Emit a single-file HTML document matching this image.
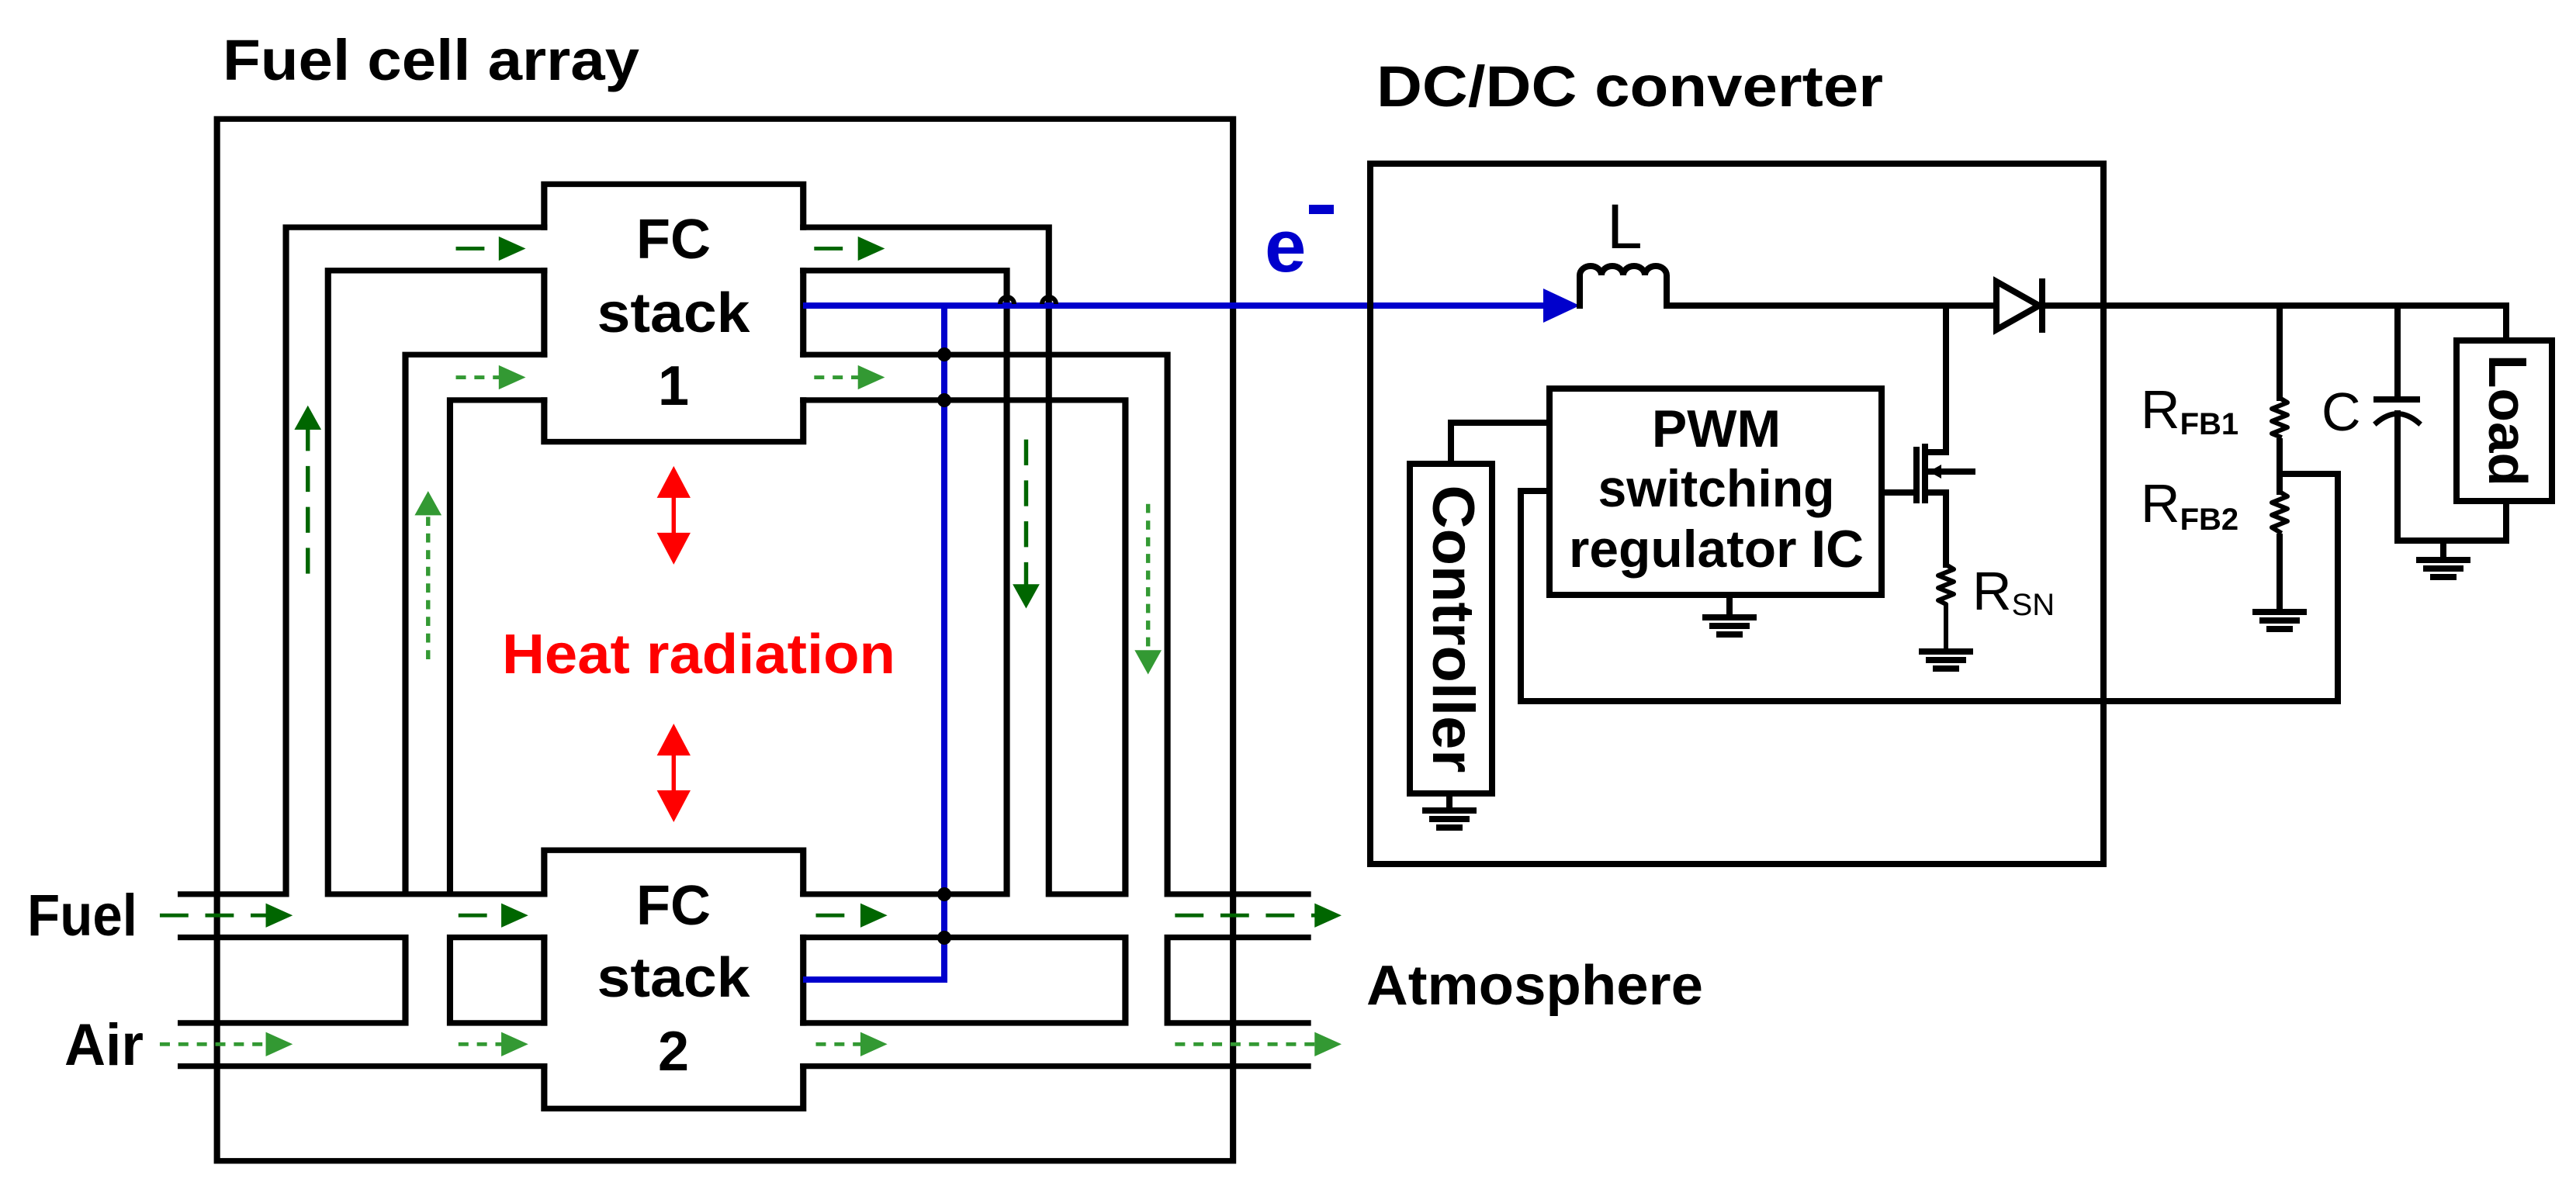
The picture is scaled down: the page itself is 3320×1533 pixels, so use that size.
<!DOCTYPE html>
<html><head><meta charset="utf-8"><style>
html,body{margin:0;padding:0;background:#fff;}
svg{display:block;}
text{font-family:"Liberation Sans",Arial,sans-serif;}
</style></head><body>
<svg width="3320" height="1533" viewBox="0 0 3320 1533" xmlns="http://www.w3.org/2000/svg">
<rect width="3320" height="1533" fill="#fff"/>
<g transform="scale(1.084,0.977)" fill="none" stroke="#000" stroke-width="7.5" stroke-linejoin="miter" stroke-linecap="square">
<rect x="258" y="157" width="1208" height="1375"/>
<path d="M647,300 V243 H955 V300 M647,357 V468 M647,528 V583 H955 V528 M955,357 V468"/>
<path d="M215,1180 H340 V300 H647 M647,1180 H390 V357 H647 M482,1180 V468 H647 M535,1180 V528 H647"/>
<path d="M215,1237 H482 V1350 H215 M647,1237 H535 V1350 H647 M215,1407 H647"/>
<path d="M647,1180 V1122 H955 V1180 M647,1237 V1350 M955,1237 V1350 M647,1407 V1463 H955 V1407"/>
<path d="M955,357 H1197 V1180 H955 M955,300 H1247 V1180 H1338 M1338,1180 V528 H955 M1388,1180 V468 H955 M1388,1180 H1555"/>
<path d="M955,1237 H1338 V1350 H955 M1555,1237 H1388 V1350 H1555 M955,1407 H1555"/>
</g>
<g transform="scale(1.084,0.977)" stroke-width="5">
<g stroke="#006600" fill="#006600" stroke-dasharray="34,20">
<path d="M542,328 H595 M968,328 H1022 M190,1208 H318 M545,1208 H598 M970,1208 H1025 M1397,1208 H1565"/>
<path d="M366,757 V565 M1220,580 V773"/>
</g>
<g fill="#006600">
<polygon points="593,312 625,328 593,344"/><polygon points="1020,312 1052,328 1020,344"/>
<polygon points="316,1192 348,1208 316,1224"/><polygon points="596,1192 628,1208 596,1224"/>
<polygon points="1023,1192 1055,1208 1023,1224"/><polygon points="1563,1192 1595,1208 1563,1224"/>
<polygon points="350,567 366,535 382,567"/><polygon points="1204,771 1220,803 1236,771"/>
</g>
<g stroke="#339933" fill="#339933" stroke-dasharray="12,10">
<path d="M542,498 H595 M968,498 H1022 M190,1378 H318 M545,1378 H598 M970,1378 H1025 M1397,1378 H1565"/>
<path d="M509,870 V678 M1365,665 V860"/>
</g>
<g fill="#339933">
<polygon points="593,482 625,498 593,514"/><polygon points="1020,482 1052,498 1020,514"/>
<polygon points="316,1362 348,1378 316,1394"/><polygon points="596,1362 628,1378 596,1394"/>
<polygon points="1023,1362 1055,1378 1023,1394"/><polygon points="1563,1362 1595,1378 1563,1394"/>
<polygon points="493,680 509,648 525,680"/><polygon points="1349,858 1365,890 1381,858"/>
</g>
<g stroke="#ff0000" fill="#ff0000">
<path d="M801,650 V710 M801,990 V1050" stroke-width="5"/>
<polygon points="781,657 801,615 821,657" stroke="none"/><polygon points="781,703 801,745 821,703" stroke="none"/>
<polygon points="781,997 801,955 821,997" stroke="none"/><polygon points="781,1043 801,1085 821,1043" stroke="none"/>
</g>
</g>
<g stroke="#0000cc" stroke-width="8" fill="none">
<path d="M1035,394 H1995 M1217,394 V1263 H1035"/>
</g>
<polygon points="1989,372 2036,394 1989,416" fill="#0000cc"/>
<g fill="#000">
<circle cx="1217" cy="457" r="9"/><circle cx="1217" cy="516" r="9"/>
<circle cx="1217" cy="1153" r="9"/><circle cx="1217" cy="1209" r="9"/>
</g>
<path d="M1289,392 a9,9 0 0 1 18,0 M1343,392 a9,9 0 0 1 18,0" stroke="#000" stroke-width="6" fill="none"/>
<g fill="none" stroke="#000" stroke-width="8" stroke-linecap="square">
<rect x="1766" y="211" width="945" height="903"/>
<path d="M2036,394 V355 a14,12 0 0 1 28,0 a14,12 0 0 1 28,0 a14,12 0 0 1 28,0 a14,12 0 0 1 28,0 V394 H2573"/>
<path d="M2632,394 H3230 V439"/>
<polygon points="2573,363 2573,425 2628,394" stroke-linejoin="miter"/>
<path d="M2632,363 V425"/>
<path d="M2508,394 V583 H2481 M2481,576 V645 M2470,580 V645 M2425,635 H2470 M2481,635 H2508 V728"/>
<path d="M2508,728 l10,6 l-20,8 l20,8 l-20,8 l20,8 l-20,8 l10,5 V840" stroke-width="6" stroke-linejoin="round"/>
<path d="M2481,608 H2542"/>
<rect x="1997" y="501" width="428" height="266"/>
<rect x="1817" y="598" width="106" height="425"/>
<path d="M1997,545 H1870 V598"/>
<path d="M1997,633 H1960 V904 H3013 V611 H2938"/>
<path d="M2938,394 V513 M2938,569 V634 M2938,692 V789"/>
<path d="M2938,513 l10,6 l-20,8 l20,8 l-20,8 l20,8 l-20,8 l10,4" stroke-width="6" stroke-linejoin="round"/>
<path d="M2938,634 l10,6 l-20,8 l20,8 l-20,8 l20,8 l-20,8 l10,6" stroke-width="6" stroke-linejoin="round"/>
<path d="M3090,394 V515 M3063,515 H3115"/>
<path d="M3063,545 Q3090,522 3117,545" stroke-width="7"/>
<path d="M3090,533 V697 H3230 V646"/>
<rect x="3166" y="439" width="123" height="207"/>
<path d="M3149,697 V722 M2229,767 V796 M1868,1023 V1045"/>
<path d="M2198,796 H2260 M2207,807 H2251 M2216,818 H2242"/>
<path d="M2477,840 H2539 M2486,851 H2530 M2495,862 H2521"/>
<path d="M2907,789 H2969 M2916,800 H2960 M2925,811 H2951"/>
<path d="M3118,722 H3180 M3127,733 H3171 M3136,744 H3162"/>
<path d="M1837,1045 H1899 M1846,1056 H1890 M1855,1067 H1881"/>
</g>
<polygon points="2486,608 2502,599 2502,617" fill="#000"/>
<g font-weight="bold" fill="#000">
<text x="287" y="103" font-size="74" textLength="537" lengthAdjust="spacingAndGlyphs">Fuel cell array</text>
<text x="1774" y="137" font-size="74" textLength="653" lengthAdjust="spacingAndGlyphs">DC/DC converter</text>
<text x="1761" y="1295" font-size="72" textLength="434" lengthAdjust="spacingAndGlyphs">Atmosphere</text>
<text x="35" y="1206" font-size="76" textLength="142" lengthAdjust="spacingAndGlyphs">Fuel</text>
<text x="83" y="1373" font-size="76" textLength="102" lengthAdjust="spacingAndGlyphs">Air</text>
<g text-anchor="middle" font-size="72">
<text x="868" y="333">FC</text>
<text x="868" y="428" textLength="197" lengthAdjust="spacingAndGlyphs">stack</text>
<text x="868" y="522">1</text>
<text x="868" y="1192">FC</text>
<text x="868" y="1285" textLength="197" lengthAdjust="spacingAndGlyphs">stack</text>
<text x="868" y="1380">2</text>
</g>
<text x="647" y="868" font-size="72" fill="#ff0000" textLength="507" lengthAdjust="spacingAndGlyphs">Heat radiation</text>
<g text-anchor="middle" font-size="68">
<text x="2212" y="576">PWM</text>
<text x="2212" y="653" textLength="305" lengthAdjust="spacingAndGlyphs">switching</text>
<text x="2212" y="731" textLength="380" lengthAdjust="spacingAndGlyphs">regulator IC</text>
</g>
<text transform="translate(1847,811) rotate(90)" text-anchor="middle" font-size="76" textLength="371" lengthAdjust="spacingAndGlyphs">Controller</text>
<text transform="translate(3208,542) rotate(90)" text-anchor="middle" font-size="70" textLength="170" lengthAdjust="spacingAndGlyphs">Load</text>
</g>
<text x="1630" y="350" font-size="96" font-weight="bold" fill="#0000cc">e</text>
<rect x="1687" y="264" width="32" height="12" fill="#0000cc"/>
<g fill="#000">
<text x="2071" y="320" font-size="82">L</text>
<text x="2542" y="786" font-size="70">R<tspan font-size="40" dy="7">SN</tspan></text>
<text x="2759" y="552" font-size="70">R<tspan font-size="40" dy="8" font-weight="bold">FB1</tspan></text>
<text x="2759" y="673" font-size="70">R<tspan font-size="40" dy="10" font-weight="bold">FB2</tspan></text>
<text x="2992" y="555" font-size="70">C</text>
</g>
</svg>
</body></html>
